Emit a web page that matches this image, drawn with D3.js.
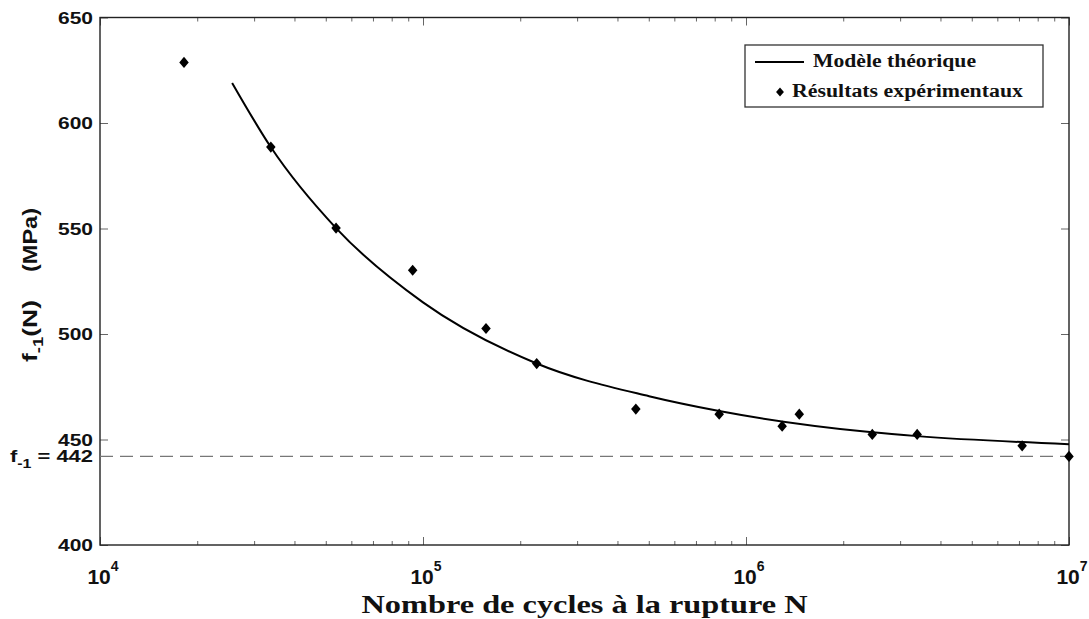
<!DOCTYPE html>
<html>
<head>
<meta charset="utf-8">
<script src="https://cdn.jsdelivr.net/npm/d3@7"></script>
<style>
  body { margin: 0; background: #fff; }
  svg { display: block; }
</style>
</head>
<body>
<svg id="chart" width="1089" height="619"></svg>
<script>
// Experimental fatigue results: cycles to failure and stress amplitude (MPa)
const testCycles = [18200, 33800, 53800, 92900, 156700, 224900, 456000, 826000,
                    1294000, 1462000, 2460000, 3388000, 7160000, 10000000];
const testStress = [628.7, 588.6, 550.2, 530.2, 502.6, 486.0, 464.4, 462.0,
                    456.3, 462.0, 452.4, 452.4, 447.0, 442.0];

// Theoretical model, sampled along the fitted curve
const modelCycles = [25650, 33780, 53800, 100000, 224900, 501000, 826000,
                     2460000, 3390000, 10000000];
const modelStress = [619, 588.6, 550.2, 515, 486.0, 470.5, 463.5,
                     453.4, 451.6, 447.8];

// Endurance limit f-1
const enduranceLimit = 442;

// Axis ticks
const yTickValues = [400, 450, 500, 550, 600, 650];
const xDecades = [1e4, 1e5, 1e6, 1e7];
const xDecadeExponents = ["4", "5", "6", "7"];

const legendLabels = ["Modèle théorique", "Résultats expérimentaux"];
const xTitle = "Nombre de cycles à la rupture N";

// ---- layout ----
const plotLeft = 100, plotRight = 1069, plotTop = 17.5, plotBottom = 545;
const sansBold = "'Liberation Sans', Arial, sans-serif";
const serifBold = "'Liberation Serif', 'Times New Roman', serif";

const svg = d3.select("#chart");

const x = d3.scaleLog().domain([1e4, 1e7]).range([plotLeft, plotRight]);
const y = d3.scaleLinear().domain([400, 650]).range([plotBottom, plotTop]);

// ---- ticks (all pointing inward) ----
const minorTicks = x.ticks().filter(v => !xDecades.includes(v));
const tickColor = "#666";

function styleAxis(g) {
  g.select(".domain").remove();
  g.selectAll(".tick line").attr("stroke", tickColor).attr("stroke-width", 1);
  g.selectAll(".tick text").remove();
}

svg.append("g").attr("transform", `translate(0,${plotBottom})`)
  .call(d3.axisBottom(x).tickValues(xDecades).tickSize(-8)).call(styleAxis);
svg.append("g").attr("transform", `translate(0,${plotBottom})`)
  .call(d3.axisBottom(x).tickValues(minorTicks).tickSize(-4)).call(styleAxis);
svg.append("g").attr("transform", `translate(0,${plotTop})`)
  .call(d3.axisTop(x).tickValues(xDecades).tickSize(-8)).call(styleAxis);
svg.append("g").attr("transform", `translate(0,${plotTop})`)
  .call(d3.axisTop(x).tickValues(minorTicks).tickSize(-4)).call(styleAxis);
svg.append("g").attr("transform", `translate(${plotLeft},0)`)
  .call(d3.axisLeft(y).tickValues(yTickValues).tickSize(-8)).call(styleAxis);
svg.append("g").attr("transform", `translate(${plotRight},0)`)
  .call(d3.axisRight(y).tickValues(yTickValues).tickSize(-8)).call(styleAxis);

// ---- frame ----
svg.append("rect")
  .attr("x", plotLeft).attr("y", plotTop)
  .attr("width", plotRight - plotLeft).attr("height", plotBottom - plotTop)
  .attr("fill", "none").attr("stroke", "#222").attr("stroke-width", 1.4);

// ---- endurance limit line ----
svg.append("line")
  .attr("x1", plotLeft).attr("x2", plotRight)
  .attr("y1", y(enduranceLimit)).attr("y2", y(enduranceLimit))
  .attr("stroke", "#777").attr("stroke-width", 1.4)
  .attr("stroke-dasharray", "13,7");

// ---- y tick labels ----
svg.append("g").selectAll("text")
  .data(yTickValues)
  .join("text")
  .attr("x", plotLeft - 7)
  .attr("y", d => y(d) + 6)
  .attr("text-anchor", "end")
  .attr("font-family", sansBold).attr("font-weight", "bold")
  .attr("font-size", 16.5)
  .attr("textLength", 35).attr("lengthAdjust", "spacingAndGlyphs")
  .attr("fill", "#111")
  .text(d => d);

// f-1 = 442 label
const fLabel = svg.append("text")
  .attr("x", plotLeft - 7)
  .attr("y", y(enduranceLimit) + 6)
  .attr("text-anchor", "end")
  .attr("font-family", sansBold).attr("font-weight", "bold")
  .attr("font-size", 16.5)
  .attr("textLength", 83).attr("lengthAdjust", "spacingAndGlyphs")
  .attr("fill", "#111");
fLabel.append("tspan").text("f");
fLabel.append("tspan").attr("font-size", 12).attr("dy", 6).text("-1");
fLabel.append("tspan").attr("dy", -6).text(" = " + enduranceLimit);

// ---- x tick labels (10^n) ----
const xLab = svg.append("g").selectAll("text")
  .data(xDecades)
  .join("text")
  .attr("x", d => x(d) + 3)
  .attr("y", 584)
  .attr("text-anchor", "middle")
  .attr("font-family", sansBold).attr("font-weight", "bold")
  .attr("font-size", 21)
  .attr("fill", "#111");
xLab.append("tspan").text("10");
xLab.append("tspan").attr("font-size", 14).attr("dy", -13)
  .text((d, i) => xDecadeExponents[i]);

// ---- axis titles ----
svg.append("text")
  .attr("x", (plotLeft + plotRight) / 2)
  .attr("y", 613)
  .attr("text-anchor", "middle")
  .attr("font-family", serifBold).attr("font-weight", "bold")
  .attr("font-size", 26)
  .attr("textLength", 446).attr("lengthAdjust", "spacingAndGlyphs")
  .attr("fill", "#111")
  .text(xTitle);

const yTitle = svg.append("g").attr("transform", "translate(37,362) rotate(-90)");
const yT1 = yTitle.append("text")
  .attr("x", 0).attr("y", 0)
  .attr("font-family", sansBold).attr("font-weight", "bold")
  .attr("font-size", 20)
  .attr("textLength", 62).attr("lengthAdjust", "spacingAndGlyphs")
  .attr("fill", "#111");
yT1.append("tspan").text("f");
yT1.append("tspan").attr("font-size", 14).attr("dy", 6).text("-1");
yT1.append("tspan").attr("dy", -6).text("(N)");
yTitle.append("text")
  .attr("x", 154).attr("y", 0)
  .attr("text-anchor", "end")
  .attr("font-family", sansBold).attr("font-weight", "bold")
  .attr("font-size", 20)
  .attr("textLength", 64).attr("lengthAdjust", "spacingAndGlyphs")
  .attr("fill", "#111")
  .text("(MPa)");

// ---- model curve ----
const modelData = modelCycles.map((n, i) => [n, modelStress[i]]);
svg.append("path")
  .datum(modelData)
  .attr("fill", "none")
  .attr("stroke", "#000")
  .attr("stroke-width", 2)
  .attr("d", d3.line()
    .x(d => x(d[0])).y(d => y(d[1]))
    .curve(d3.curveMonotoneX));

// ---- experimental points (diamonds) ----
const diamond = {
  draw(ctx, size) {
    const h = Math.sqrt(size) / 2;
    const w = h * 0.85;
    ctx.moveTo(0, -h); ctx.lineTo(w, 0); ctx.lineTo(0, h); ctx.lineTo(-w, 0); ctx.closePath();
  }
};
const diamondPath = d3.symbol().type(diamond).size(125)();

svg.append("g").selectAll("path")
  .data(testCycles.map((n, i) => [n, testStress[i]]))
  .join("path")
  .attr("transform", d => `translate(${x(d[0])},${y(d[1])})`)
  .attr("d", diamondPath)
  .attr("fill", "#000");

// ---- legend ----
const legend = svg.append("g");
legend.append("rect")
  .attr("x", 745).attr("y", 45).attr("width", 298).attr("height", 62)
  .attr("fill", "#fff").attr("stroke", "#333").attr("stroke-width", 1.3);
legend.append("line")
  .attr("x1", 755).attr("x2", 804).attr("y1", 62).attr("y2", 62)
  .attr("stroke", "#000").attr("stroke-width", 2);
legend.append("text")
  .attr("x", 813).attr("y", 67)
  .attr("font-family", serifBold).attr("font-weight", "bold")
  .attr("font-size", 18)
  .attr("textLength", 163).attr("lengthAdjust", "spacingAndGlyphs")
  .attr("fill", "#111")
  .text(legendLabels[0]);
legend.append("path")
  .attr("transform", "translate(780,92)")
  .attr("d", d3.symbol().type(diamond).size(85)())
  .attr("fill", "#000");
legend.append("text")
  .attr("x", 792).attr("y", 97)
  .attr("font-family", serifBold).attr("font-weight", "bold")
  .attr("font-size", 18)
  .attr("textLength", 231).attr("lengthAdjust", "spacingAndGlyphs")
  .attr("fill", "#111")
  .text(legendLabels[1]);
</script>
</body>
</html>
